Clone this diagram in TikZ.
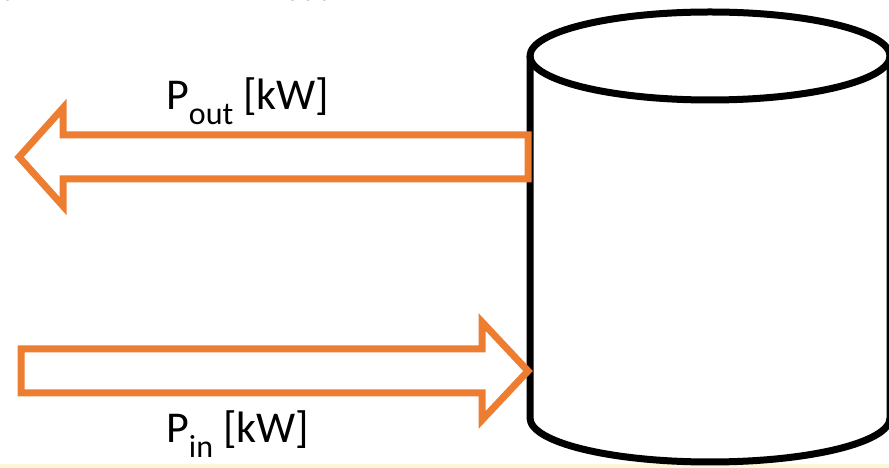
\documentclass[tikz,border=0pt]{standalone}
\usepackage{fontspec}
\setmainfont{Carlito}
\usetikzlibrary{calc}
\definecolor{flow}{HTML}{ED7D31}
\definecolor{band}{HTML}{FFF6D8}
% lowered, smaller index text (P_in, P_out)
\newcommand{\pidx}[1]{\raisebox{-0.32em}{\fontsize{32}{34}\selectfont #1}}
\begin{document}
\begin{tikzpicture}[x=1pt,y=1pt,
  flowarrow/.style={draw=flow, line width=7pt, line join=miter, fill=white},
  tank/.style={draw=black, line width=7pt, line join=round},
  lbl/.style={anchor=base west, inner sep=0pt, font=\fontsize{44}{46}\selectfont},
  sublbl/.style={anchor=base west, inner sep=0pt, font=\fontsize{32}{34}\selectfont}]
\useasboundingbox (0,0) rectangle (889,468);
\clip (0,0) rectangle (889,468);

% thin band along the lower edge
\fill[band] (0,0) rectangle (889,3.5);

% tail of the equation line above
\node[sublbl] (eqa) at (1,467) {t};
\node[sublbl] (eqb) at (209,467) {in};
\node[sublbl] (eqc) at (284,467) {out};

% storage tank
\draw[tank] (710,412) ellipse [x radius=180, y radius=44];
\draw[tank] (530,412) -- (530,50)
  arc[start angle=180, end angle=360, x radius=180, y radius=44] -- (890,412);
\coordinate (tankout) at (528,311);
\coordinate (tankin) at (528,97);

% outgoing power
\draw[flowarrow] ($(tankout)+(0,22)$) -- (63,333) -- (63,360) -- (19,311)
  -- (63,262) -- (63,289) -- ($(tankout)+(0,-22)$) -- cycle;
% incoming power
\draw[flowarrow] (21,119) -- (482,119) -- (482,146) -- (tankin)
  -- (482,48) -- (482,75) -- (21,75) -- cycle;

\node[lbl] (pout) at (166,358) {P\pidx{out} [kW]};
\node[lbl] (pin) at (166,25) {P\pidx{in} [kW]};
\end{tikzpicture}
\end{document}
